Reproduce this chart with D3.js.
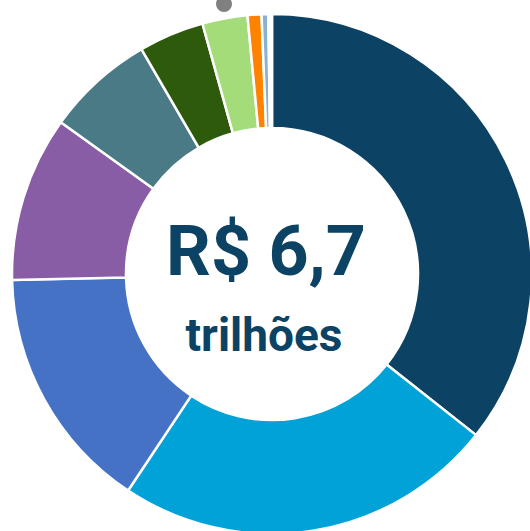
<!DOCTYPE html>
<html>
<head>
<meta charset="utf-8">
<script src="https://cdn.jsdelivr.net/npm/d3@7"></script>
<style>
  html, body { margin: 0; padding: 0; background: #fff; }
  svg { display: block; }
</style>
</head>
<body>
<div id="chart"></div>
<script>
// categories and values (R$ bilhões)
var categories = ["A", "B", "C", "D", "E", "F", "G", "H", "I", "J"];
var values = [2388, 1588, 1025, 689, 450, 272, 188, 58, 28, 15];
var colors = ["#0c4263", "#00a2d7", "#4672c6", "#885da6", "#497a86",
              "#2e5a0b", "#a3dc78", "#ff8200", "#89b1d1", "#ffffff"];
var totalLabel = "R$ 6,7";
var unitLabel = "trilhões";

var width = 530, height = 531;
var cx = 272, cy = 274;
var outerR = 260, innerR = 146;

var svg = d3.select("#chart")
    .append("svg")
    .attr("width", width)
    .attr("height", height);

var g = svg.append("g")
    .attr("transform", "translate(" + cx + "," + cy + ")");

var data = categories.map(function(c, i) { return {cat: c, value: values[i], color: colors[i]}; });

var pie = d3.pie()
    .sort(null)
    .value(function(d) { return d.value; });

var arc = d3.arc()
    .innerRadius(innerR)
    .outerRadius(outerR);

g.selectAll("path")
    .data(pie(data))
    .enter()
    .append("path")
    .attr("d", arc)
    .style("fill", function(d) { return d.data.color; })
    .style("stroke", "#fff")
    .style("stroke-width", 2.5);

// little grey marker above the thin slices
svg.append("circle")
    .attr("cx", 224)
    .attr("cy", 4)
    .attr("r", 8)
    .style("fill", "#808080");

// centre text
g.append("text")
    .attr("x", -6)
    .attr("y", 1)
    .attr("text-anchor", "middle")
    .style("font-family", "Roboto, 'DejaVu Sans', sans-serif")
    .style("font-weight", 700)
    .style("font-size", "70px")
    .style("fill", "#0c4263")
    .text(totalLabel);

g.append("text")
    .attr("x", -8)
    .attr("y", 77)
    .attr("text-anchor", "middle")
    .style("font-family", "Roboto, 'DejaVu Sans', sans-serif")
    .style("font-weight", 700)
    .style("font-size", "46px")
    .style("fill", "#0c4263")
    .text(unitLabel);
</script>
</body>
</html>
